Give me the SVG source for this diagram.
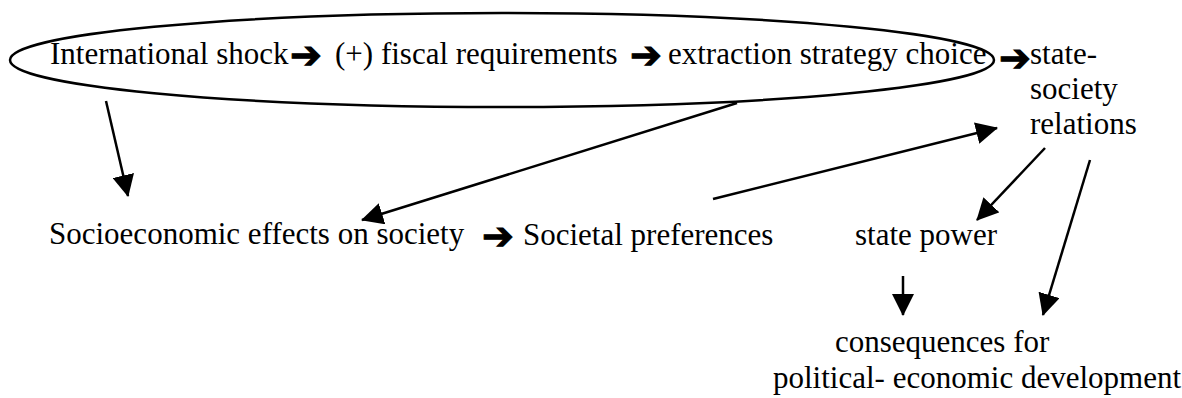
<svg xmlns="http://www.w3.org/2000/svg" width="1182" height="398" viewBox="0 0 1182 398">
  <style>
    .t { font-family: "Liberation Serif", "Times New Roman", serif; font-size: 31px; fill: #000; }
    .ia { font-family: "DejaVu Sans", sans-serif; font-size: 38px; fill: #000; stroke: #000; stroke-width: 1; }
    .c { stroke: #000; stroke-width: 2.5; fill: none; marker-end: url(#ah); }
  </style>
  <defs>
    <marker id="ah" viewBox="0 0 22 22" markerWidth="22" markerHeight="22" refX="21" refY="11" orient="auto" markerUnits="userSpaceOnUse">
      <path d="M0,0 L22,11 L0,22 z" fill="#000"/>
    </marker>
  </defs>
  <rect width="1182" height="398" fill="#fff"/>

  <g id="n-chain">
    <ellipse cx="502" cy="60" rx="492" ry="47" fill="none" stroke="#000" stroke-width="2.5"/>
    <text class="t" x="50" y="64">International shock</text>
    <text class="ia" x="290" y="68">➔</text>
    <text class="t" x="335" y="64">(+) fiscal requirements</text>
    <text class="ia" x="630" y="68">➔</text>
    <text class="t" x="668" y="64">extraction strategy choice</text>
  </g>

  <g id="n-ssr">
    <text class="t" x="1030" y="64">state-</text>
    <text class="t" x="1030" y="99">society</text>
    <text class="t" x="1030" y="134">relations</text>
  </g>

  <g id="n-socio">
    <text class="t" x="49" y="244">Socioeconomic effects on society</text>
  </g>

  <g id="n-pref">
    <text class="t" x="523" y="245">Societal preferences</text>
  </g>

  <g id="n-power">
    <text class="t" x="855" y="245">state power</text>
  </g>

  <g id="n-conseq">
    <text class="t" x="835" y="352">consequences for</text>
    <text class="t" x="773" y="388">political- economic development</text>
  </g>

  <g id="connectors">
    <text class="ia" x="999" y="71">➔</text>
    <text class="ia" x="482" y="249">➔</text>
    <path class="c" d="M106,101 L128,196"/>
    <path class="c" d="M737,103 L362,220"/>
    <path class="c" d="M713,199 L997,128"/>
    <path class="c" d="M1045,148 L977,220"/>
    <path class="c" d="M1090,160 L1043,315"/>
    <path class="c" d="M903,276 L903,315"/>
  </g>
</svg>
